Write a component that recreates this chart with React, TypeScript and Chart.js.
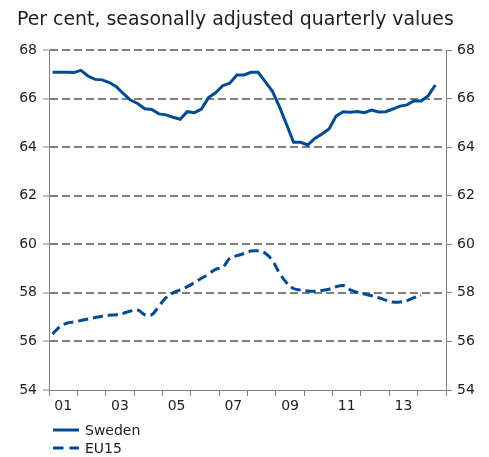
import React, { useEffect, useRef } from 'react';
import { Chart, registerables } from 'chart.js';

Chart.register(...registerables);

const TITLE = 'Per cent, seasonally adjusted quarterly values';
const START_YEAR = 2001;
const END_YEAR = 2015;
const yearLabels = ['01', '', '03', '', '05', '', '07', '', '09', '', '11', '', '13', ''];
const yTicks = [54, 56, 58, 60, 62, 64, 66, 68];
const seriesNames = ['Sweden', 'EU15'];

// Quarterly values, 2001Q1 onwards
const sweden = [
  67.08, 67.08, 67.08, 67.07, 67.16, 66.93, 66.79, 66.77, 66.66, 66.49,
  66.2, 65.94, 65.8, 65.58, 65.55, 65.37, 65.33, 65.23, 65.15, 65.46,
  65.42, 65.57, 66.04, 66.24, 66.53, 66.63, 66.97, 66.97, 67.08, 67.08,
  66.7, 66.31, 65.67, 64.94, 64.2, 64.2, 64.09, 64.36, 64.54, 64.75,
  65.28, 65.46, 65.44, 65.47, 65.42, 65.53, 65.45, 65.46, 65.57, 65.69,
  65.74, 65.91, 65.9, 66.12, 66.56,
];
const eu15 = [
  56.3, 56.6, 56.75, 56.8, 56.86, 56.92, 56.98, 57.04, 57.08, 57.1,
  57.16, 57.25, 57.3, 57.1, 57.1, 57.45, 57.8, 58.0, 58.12, 58.25,
  58.42, 58.6, 58.77, 58.97, 59.05, 59.42, 59.53, 59.62, 59.72, 59.73,
  59.63, 59.33, 58.82, 58.42, 58.18, 58.12, 58.08, 58.07, 58.1, 58.15,
  58.25, 58.3, 58.12, 58.02, 57.95, 57.88, 57.8, 57.7, 57.62, 57.62,
  57.68, 57.8, 57.91,
];

const FONT = '"DejaVu Sans", Verdana, sans-serif';
const TEXT = '#1e1e1e';
const GRAY = '#7f7f7f';
const BLUE = '#004b96';

const toPoints = (vals: number[]) =>
  vals.map((y, i) => ({ x: START_YEAR + (i + 0.5) / 4, y }));

const decoPlugin = {
  id: 'deco',
  afterDraw(chart: any) {
    const ctx = chart.ctx;
    ctx.save();
    ctx.fillStyle = TEXT;
    ctx.font = `18.9px ${FONT}`;
    ctx.textBaseline = 'alphabetic';
    ctx.textAlign = 'left';
    ctx.fillText(TITLE, 17, 25);
    chart.data.datasets.forEach((ds: any, i: number) => {
      const y = 430 + i * 18;
      ctx.strokeStyle = ds.borderColor;
      ctx.lineWidth = 3;
      ctx.setLineDash(ds.borderDash && ds.borderDash.length ? [10.5, 6] : []);
      ctx.beginPath();
      ctx.moveTo(53, y);
      ctx.lineTo(79, y);
      ctx.stroke();
      ctx.setLineDash([]);
      ctx.font = `14px ${FONT}`;
      ctx.textBaseline = 'middle';
      ctx.fillStyle = TEXT;
      ctx.fillText(ds.label, 85, y + 1);
    });
    ctx.restore();
  },
};

export default function App() {
  const canvasRef = useRef<HTMLCanvasElement | null>(null);

  useEffect(() => {
    const canvas = canvasRef.current;
    if (!canvas) return;
    const font = { family: FONT, size: 14 };
    const chart = new Chart(canvas, {
      type: 'line',
      data: {
        datasets: [
          {
            label: seriesNames[0],
            data: toPoints(sweden),
            borderColor: BLUE,
            backgroundColor: BLUE,
            borderWidth: 3,
            pointRadius: 0,
            tension: 0,
            yAxisID: 'y',
          },
          {
            label: seriesNames[1],
            data: toPoints(eu15),
            borderColor: BLUE,
            backgroundColor: BLUE,
            borderWidth: 3,
            borderDash: [10, 5],
            pointRadius: 0,
            tension: 0.4,
            yAxisID: 'y',
          },
        ],
      },
      options: {
        animation: false,
        responsive: false,
        devicePixelRatio: 1,
        layout: { padding: { top: 50, left: 0, right: 0, bottom: 0 } },
        plugins: {
          legend: { display: false },
          title: { display: false },
          tooltip: { enabled: false },
        },
        scales: {
          x: {
            type: 'linear',
            min: START_YEAR,
            max: END_YEAR,
            afterBuildTicks: (s: any) => {
              s.ticks = yearLabels.map((_, i) => ({ value: START_YEAR + i + 0.5 }));
            },
            afterFit: (s: any) => {
              s.height = 67;
            },
            grid: {
              offset: true,
              drawOnChartArea: false,
              drawTicks: true,
              tickLength: 6,
              color: GRAY,
              lineWidth: 1,
            },
            border: { display: true, color: GRAY, width: 1 },
            ticks: {
              autoSkip: false,
              maxRotation: 0,
              minRotation: 0,
              padding: 2,
              font,
              color: TEXT,
              callback: (_v: any, i: number) => yearLabels[i],
            },
          },
          y: {
            position: 'left',
            min: 54,
            max: 68,
            afterBuildTicks: (s: any) => {
              s.ticks = yTicks.map((v) => ({ value: v }));
            },
            afterFit: (s: any) => {
              s.width = 49;
            },
            grid: {
              color: (c: any) => (c.tick && c.tick.value === 54 ? 'rgba(0,0,0,0)' : GRAY),
              lineWidth: 2,
              drawTicks: true,
              tickLength: 6,
              tickColor: GRAY,
              tickWidth: 1,
              tickBorderDash: [],
            },
            border: { display: true, color: GRAY, width: 1, dash: [8, 4] },
            ticks: { padding: 6, font, color: TEXT },
          },
          y2: {
            position: 'right',
            min: 54,
            max: 68,
            afterBuildTicks: (s: any) => {
              s.ticks = yTicks.map((v) => ({ value: v }));
            },
            afterFit: (s: any) => {
              s.width = 43;
            },
            grid: {
              drawOnChartArea: false,
              drawTicks: true,
              tickLength: 6,
              color: GRAY,
              tickColor: GRAY,
              tickWidth: 1,
            },
            border: { display: true, color: GRAY, width: 1 },
            ticks: { padding: 5, font, color: TEXT },
          },
        },
      },
      plugins: [decoPlugin],
    } as any);
    return () => chart.destroy();
  }, []);

  return (
    <div style={{ position: 'fixed', left: 0, top: 0, width: 489, height: 457 }}>
      <canvas ref={canvasRef} width={489} height={457} style={{ display: 'block' }} />
    </div>
  );
}
